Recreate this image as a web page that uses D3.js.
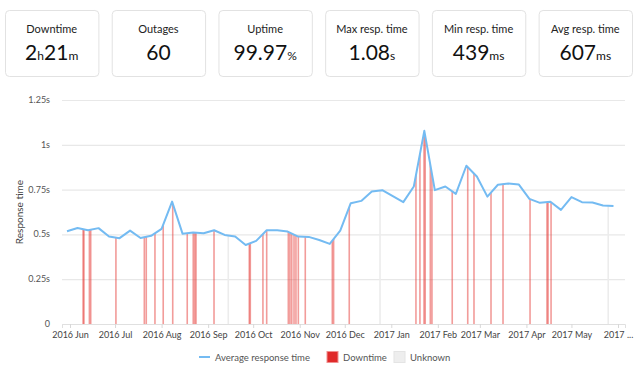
<!DOCTYPE html>
<html>
<head>
<meta charset="utf-8">
<script src="https://cdn.jsdelivr.net/npm/d3@7"></script>
<style>
  body { margin: 0; background: #fff; font-family: Lato, "Open Sans", sans-serif; }
  svg text { font-family: Lato, "Open Sans", sans-serif; }
</style>
</head>
<body>
<div id="chart"></div>
<script>
// summary cards
var cardLabels = ["Downtime", "Outages", "Uptime", "Max resp. time", "Min resp. time", "Avg resp. time"];
var cardValues = [["2", "h", "21", "m"], ["60"], ["99.97", "%"], ["1.08", "s"], ["439", "ms"], ["607", "ms"]];

// weekly average response time (seconds), weeks starting 2016-05-30
var weekStart = "2016-05-30";
var respTime = [0.518, 0.536, 0.523, 0.535, 0.488, 0.479, 0.521, 0.480, 0.492, 0.531,
                0.683, 0.503, 0.510, 0.506, 0.523, 0.497, 0.488, 0.441, 0.464, 0.523,
                0.523, 0.516, 0.488, 0.486, 0.469, 0.447, 0.521, 0.674, 0.687, 0.739,
                0.747, 0.713, 0.680, 0.767, 1.078, 0.747, 0.767, 0.726, 0.883, 0.823,
                0.711, 0.777, 0.784, 0.778, 0.698, 0.676, 0.682, 0.637, 0.708, 0.680,
                0.678, 0.661, 0.659];

// outages (start times)
var outages = ["2016-06-09T17:00", "2016-06-10T07:00", "2016-06-13T22:00", "2016-06-14T19:00",
               "2016-07-01T14:00", "2016-07-20T12:00", "2016-07-21T19:00", "2016-07-27T14:00",
               "2016-08-02T02:00", "2016-08-08T10:00", "2016-08-18T02:00", "2016-08-22T02:00",
               "2016-08-23T02:00", "2016-08-23T22:00", "2016-09-04T22:00", "2016-09-28T10:00",
               "2016-09-29T02:00", "2016-10-07T12:00", "2016-10-10T00:00", "2016-10-24T10:00",
               "2016-10-25T12:00", "2016-10-26T17:00", "2016-10-28T05:00", "2016-10-29T12:00",
               "2016-10-31T02:00", "2016-11-04T17:00", "2016-11-22T17:00", "2016-11-23T14:00",
               "2016-12-04T00:00", "2017-01-17T10:00", "2017-01-20T02:00", "2017-01-22T19:00",
               "2017-01-23T14:00", "2017-01-27T00:00", "2017-01-28T02:00", "2017-02-10T14:00",
               "2017-02-20T22:00", "2017-02-25T02:00", "2017-03-08T10:00", "2017-03-16T10:00",
               "2017-04-03T10:00", "2017-04-14T17:00", "2017-04-15T10:00", "2017-04-17T10:00"];

// unknown periods
var unknowns = ["2016-09-14T10:00", "2016-12-24T12:00", "2017-05-25T12:00"];

var monthTicks = ["2016-06-01", "2016-07-01", "2016-08-01", "2016-09-01", "2016-10-01", "2016-11-01",
                  "2016-12-01", "2017-01-01", "2017-02-01", "2017-03-01", "2017-04-01", "2017-05-01", "2017-06-01"];
var monthLabels = ["2016 Jun", "2016 Jul", "2016 Aug", "2016 Sep", "2016 Oct", "2016 Nov",
                   "2016 Dec", "2017 Jan", "2017 Feb", "2017 Mar", "2017 Apr", "2017 May", "2017 ..."];
var yTicks = [0, 0.25, 0.5, 0.75, 1, 1.25];
var yLabels = ["0", "0.25s", "0.5s", "0.75s", "1s", "1.25s"];

var width = 640, height = 369;
var parse = d3.isoParse;

var svg = d3.select("#chart").append("svg")
    .attr("width", width)
    .attr("height", height);

// ---- cards ----
var cx = d3.scaleBand()
    .domain(cardLabels)
    .range([5, 632])
    .paddingInner(0.125);

var card = svg.selectAll(".card")
    .data(cardLabels)
  .enter().append("g")
    .attr("class", "card")
    .attr("transform", function(d) { return "translate(" + cx(d) + ",10)"; });

card.append("rect")
    .attr("x", 0.5).attr("y", 0.5)
    .attr("width", cx.bandwidth())
    .attr("height", 66)
    .attr("rx", 4)
    .style("fill", "#fff")
    .style("stroke", "#e2e2e2");

card.append("text")
    .attr("x", cx.bandwidth() / 2)
    .attr("y", 23)
    .attr("text-anchor", "middle")
    .style("font-size", "11px")
    .style("fill", "#222")
    .text(function(d) { return d; });

card.append("text")
    .attr("x", cx.bandwidth() / 2)
    .attr("y", 50)
    .attr("text-anchor", "middle")
    .style("fill", "#111")
    .each(function(d, i) {
      var t = d3.select(this);
      cardValues[i].forEach(function(part) {
        var unit = /[a-z%]/.test(part);
        t.append("tspan")
          .style("font-size", unit ? "12px" : "21px")
          .text(part);
      });
    });

// ---- chart ----
var x = d3.scaleTime()
    .domain([new Date(2016, 4, 26, 16), new Date(2017, 5, 5, 16)])
    .range([62, 625]);
var y = d3.scaleLinear()
    .domain([0, 1.25])
    .range([324, 100]);

var t0 = parse(weekStart + "T00:00");
var series = respTime.map(function(v, i) {
  return { date: d3.timeDay.offset(t0, i * 7), value: v };
});

// gridlines
svg.append("g")
    .selectAll("line")
    .data(yTicks)
  .enter().append("line")
    .attr("x1", 62).attr("x2", 625)
    .attr("y1", function(d) { return y(d) + 0.5; })
    .attr("y2", function(d) { return y(d) + 0.5; })
    .style("stroke", "#e8e8e8")
    .style("stroke-width", 1.2);

svg.append("g")
    .selectAll("text")
    .data(yTicks)
  .enter().append("text")
    .attr("x", 50)
    .attr("y", function(d) { return y(d) + 3; })
    .attr("text-anchor", "end")
    .style("font-size", "9px")
    .style("fill", "#555")
    .text(function(d, i) { return yLabels[i]; });

svg.append("text")
    .attr("transform", "translate(23,212) rotate(-90)")
    .attr("text-anchor", "middle")
    .style("font-size", "10px")
    .style("fill", "#444")
    .text("Response time");

// x axis
var xAxis = d3.axisBottom(x)
    .tickValues(monthTicks.map(function(d) { return parse(d + "T00:00"); }))
    .tickSize(4)
    .tickFormat(function(d, i) { return monthLabels[i]; });

var gx = svg.append("g")
    .attr("transform", "translate(0,324)")
    .call(xAxis);
gx.select(".domain").style("stroke", "#e0e0e0");
gx.selectAll(".tick line").style("stroke", "#d8d8d8");
gx.selectAll(".tick text")
    .attr("y", 8)
    .style("font-size", "9px")
    .style("fill", "#444")
    .style("font-family", "Lato, sans-serif");

// clip the bars to the area under the line
var area = d3.area()
    .x(function(d) { return x(d.date); })
    .y0(y(0))
    .y1(function(d) { return y(d.value); });

svg.append("clipPath")
    .attr("id", "under")
  .append("path")
    .datum(series)
    .attr("d", area);

var bars = svg.append("g").attr("clip-path", "url(#under)");

bars.selectAll(".unknown")
    .data(unknowns)
  .enter().append("rect")
    .attr("class", "unknown")
    .attr("x", function(d) { return x(parse(d)) - 0.8; })
    .attr("y", y(1.25))
    .attr("width", 1.6)
    .attr("height", y(0) - y(1.25))
    .style("fill", "#ececec");

bars.selectAll(".down")
    .data(outages)
  .enter().append("rect")
    .attr("class", "down")
    .attr("x", function(d) { return x(parse(d)) - 0.8; })
    .attr("y", y(1.25))
    .attr("width", 1.6)
    .attr("height", y(0) - y(1.25))
    .style("fill", "#e53935")
    .style("opacity", 0.5);

var line = d3.line()
    .x(function(d) { return x(d.date); })
    .y(function(d) { return y(d.value); });

svg.append("path")
    .datum(series)
    .attr("d", line)
    .style("fill", "none")
    .style("stroke", "#74bbf2")
    .style("stroke-width", 2)
    .style("stroke-linejoin", "round");

// legend
var legend = svg.append("g").attr("transform", "translate(0,357)");
legend.append("line")
    .attr("x1", 199).attr("x2", 210)
    .style("stroke", "#74bbf2")
    .style("stroke-width", 2);
legend.append("rect")
    .attr("x", 327).attr("y", -5.5)
    .attr("width", 11).attr("height", 11)
    .style("fill", "#e02a2a")
    .style("stroke", "#f09090");
legend.append("rect")
    .attr("x", 394).attr("y", -5.5)
    .attr("width", 11).attr("height", 11)
    .style("fill", "#eeeeee")
    .style("stroke", "#e4e4e4");
legend.selectAll("text")
    .data([["Average response time", 215], ["Downtime", 343], ["Unknown", 410]])
  .enter().append("text")
    .attr("x", function(d) { return d[1]; })
    .attr("y", 3.5)
    .style("font-size", "9.5px")
    .style("fill", "#555")
    .text(function(d) { return d[0]; });
</script>
</body>
</html>
